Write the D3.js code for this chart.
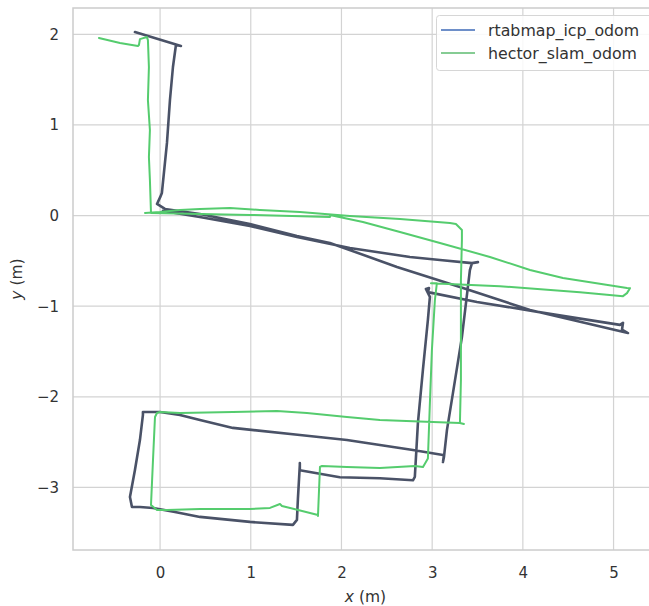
<!DOCTYPE html>
<html><head><meta charset="utf-8">
<script src="https://cdn.jsdelivr.net/npm/d3@7"></script>
<style>body{margin:0;background:#fff}svg{display:block}</style>
</head><body>
<script>
const seriesNames = ["rtabmap_icp_odom", "hector_slam_odom"];
const xTicks = [0, 1, 2, 3, 4, 5];
const yTicks = [-3, -2, -1, 0, 1, 2];

// rtabmap_icp_odom trajectory [x, y] (m)
const rtabmapX = [0.032,0.438,0.991,1.509,2.093,2.755,3.086,3.439,3.505,3.439,3.416,3.328,3.229,3.163,3.130,3.119,3.130,3.119,2.788,2.424,2.060,1.542,0.803,0.440,0.219,-0.001,-0.189,-0.189,-0.222,-0.277,-0.332,-0.310,-0.222,-0.078,0.164,0.440,0.991,1.465,1.509,1.520,1.541,1.541,1.541,1.982,2.424,2.788,2.809,2.843,2.898,2.953,2.975,2.931,2.965,2.953,3.494,4.299,5.071,5.104,5.093,5.159,4.079,3.340,2.612,1.873,1.509,0.991,0.440,0.054,-0.034,0.000,0.020,0.076,0.109,0.142,0.175,0.230,-0.277];
const rtabmapY = [0.051,-0.015,-0.115,-0.236,-0.357,-0.457,-0.490,-0.525,-0.514,-0.525,-0.602,-1.341,-1.959,-2.367,-2.665,-2.720,-2.641,-2.641,-2.586,-2.531,-2.476,-2.421,-2.343,-2.255,-2.200,-2.167,-2.167,-2.200,-2.477,-2.808,-3.106,-3.216,-3.216,-3.226,-3.270,-3.325,-3.380,-3.413,-3.358,-3.120,-2.750,-2.730,-2.811,-2.888,-2.899,-2.921,-2.884,-2.288,-1.703,-1.152,-0.898,-0.810,-0.800,-0.845,-0.953,-1.085,-1.206,-1.183,-1.260,-1.296,-1.043,-0.799,-0.567,-0.302,-0.225,-0.093,0.018,0.073,0.128,0.200,0.249,0.801,1.275,1.639,1.882,1.871,2.025];

// hector_slam_odom trajectory [x, y] (m)
const hectorX = [-0.166,-0.001,0.219,0.440,0.771,1.101,1.542,2.093,2.645,3.196,3.262,3.328,3.328,3.317,3.317,3.317,3.306,3.350,3.306,3.008,2.424,2.060,1.619,1.288,0.803,0.219,-0.001,-0.034,-0.056,-0.078,-0.100,-0.034,0.076,0.440,0.991,1.212,1.322,1.344,1.741,1.741,1.763,1.785,2.060,2.424,2.810,2.899,2.953,2.975,2.997,3.030,3.052,2.987,3.748,4.630,5.104,5.148,5.181,5.148,4.442,4.079,3.637,3.086,2.645,2.237,1.873,1.873,0.991,0.440,-0.100,-0.112,-0.123,-0.112,-0.134,-0.123,-0.134,-0.145,-0.222,-0.233,-0.244,-0.442,-0.674];
const hectorY = [0.029,0.040,0.062,0.073,0.084,0.062,0.040,-0.004,-0.038,-0.082,-0.093,-0.159,-0.269,-0.713,-1.265,-1.816,-2.290,-2.300,-2.288,-2.277,-2.255,-2.222,-2.178,-2.156,-2.167,-2.178,-2.167,-2.178,-2.222,-2.697,-3.193,-3.248,-3.248,-3.237,-3.237,-3.226,-3.182,-3.204,-3.303,-3.314,-2.774,-2.763,-2.774,-2.785,-2.763,-2.774,-2.680,-2.067,-1.486,-0.934,-0.746,-0.746,-0.779,-0.845,-0.889,-0.856,-0.801,-0.799,-0.688,-0.600,-0.457,-0.302,-0.181,-0.071,0.007,-0.015,0.007,0.018,0.029,0.392,0.646,0.943,1.274,1.638,1.936,1.970,1.947,1.882,1.871,1.904,1.959];

const W = 649, H = 606;
const m = {left: 73, right: 658, top: 8, bottom: 550};
const x = d3.scaleLinear().domain([-0.96, 5.49]).range([m.left, m.right]);
const y = d3.scaleLinear().domain([-3.69, 2.29]).range([m.bottom, m.top]);

const svg = d3.select("body").append("svg").attr("width", W).attr("height", H)
  .style("font-family", "'DejaVu Sans', sans-serif");

svg.append("defs").append("clipPath").attr("id", "clip")
  .append("rect").attr("x", m.left).attr("y", m.top)
  .attr("width", m.right - m.left).attr("height", m.bottom - m.top);

const grid = svg.append("g");
grid.selectAll(".vx").data(xTicks).join("line")
  .attr("x1", d => x(d)).attr("x2", d => x(d)).attr("y1", m.top).attr("y2", m.bottom)
  .attr("stroke", "#d3d3d3").attr("stroke-width", 1.2);
grid.selectAll(".hy").data(yTicks).join("line")
  .attr("y1", d => y(d)).attr("y2", d => y(d)).attr("x1", m.left).attr("x2", m.right)
  .attr("stroke", "#d3d3d3").attr("stroke-width", 1.2);

// spines
svg.append("rect").attr("x", m.left).attr("y", m.top)
  .attr("width", m.right - m.left).attr("height", m.bottom - m.top)
  .attr("fill", "none").attr("stroke", "#cccccc").attr("stroke-width", 1.5);

const fmt = d => (d < 0 ? "\u2212" + Math.abs(d) : String(d));
const xAxis = d3.axisBottom(x).tickValues(xTicks).tickFormat(fmt).tickSize(0).tickPadding(17);
const yAxis = d3.axisLeft(y).tickValues(yTicks).tickFormat(fmt).tickSize(0).tickPadding(14);
const gx = svg.append("g").attr("transform", `translate(0,${m.bottom})`).call(xAxis);
const gy = svg.append("g").attr("transform", `translate(${m.left},0)`).call(yAxis);
[gx, gy].forEach(g => {
  g.select(".domain").remove();
  g.selectAll("text").attr("fill", "#333").style("font-size", "15px")
    .style("font-family", "'DejaVu Sans', sans-serif");
});

const line = d3.line().x(d => x(d[0])).y(d => y(d[1]));
const rtab = rtabmapX.map((v, i) => [v, rtabmapY[i]]);
const hect = hectorX.map((v, i) => [v, hectorY[i]]);
const plot = svg.append("g").attr("clip-path", "url(#clip)");
plot.append("path").datum(rtab).attr("d", line).attr("fill", "none")
  .attr("stroke", "#4a5267").attr("stroke-width", 2.6).attr("stroke-linejoin", "round").attr("stroke-linecap", "round");
plot.append("path").datum(hect).attr("d", line).attr("fill", "none")
  .attr("stroke", "#55cc6e").attr("stroke-width", 2).attr("stroke-linejoin", "round").attr("stroke-linecap", "round");

// axis labels
const xl = svg.append("text").attr("x", (m.left + m.right) / 2).attr("y", 602)
  .attr("text-anchor", "middle").attr("fill", "#333").style("font-size", "15.5px");
xl.append("tspan").attr("font-style", "italic").text("x");
xl.append("tspan").text(" (m)");
const yl = svg.append("text").attr("transform", `translate(22,${(m.top + m.bottom) / 2}) rotate(-90)`)
  .attr("text-anchor", "middle").attr("fill", "#333").style("font-size", "15.5px");
yl.append("tspan").attr("font-style", "italic").text("y");
yl.append("tspan").text(" (m)");

// legend
const leg = svg.append("g");
leg.append("rect").attr("x", 436.5).attr("y", 15.5).attr("width", 220).attr("height", 55)
  .attr("rx", 3).attr("fill", "#fff").attr("fill-opacity", 0.85).attr("stroke", "#d6d6d6");
const legColors = ["#6e8fc9", "#86cc94"];
seriesNames.forEach((n, i) => {
  const yy = 30 + i * 23;
  leg.append("line").attr("x1", 441).attr("x2", 475).attr("y1", yy).attr("y2", yy)
    .attr("stroke", legColors[i]).attr("stroke-width", 2);
  leg.append("text").attr("x", 488).attr("y", yy + 5.5).attr("fill", "#333")
    .style("font-size", "15.8px").text(n);
});
</script>
</body></html>
